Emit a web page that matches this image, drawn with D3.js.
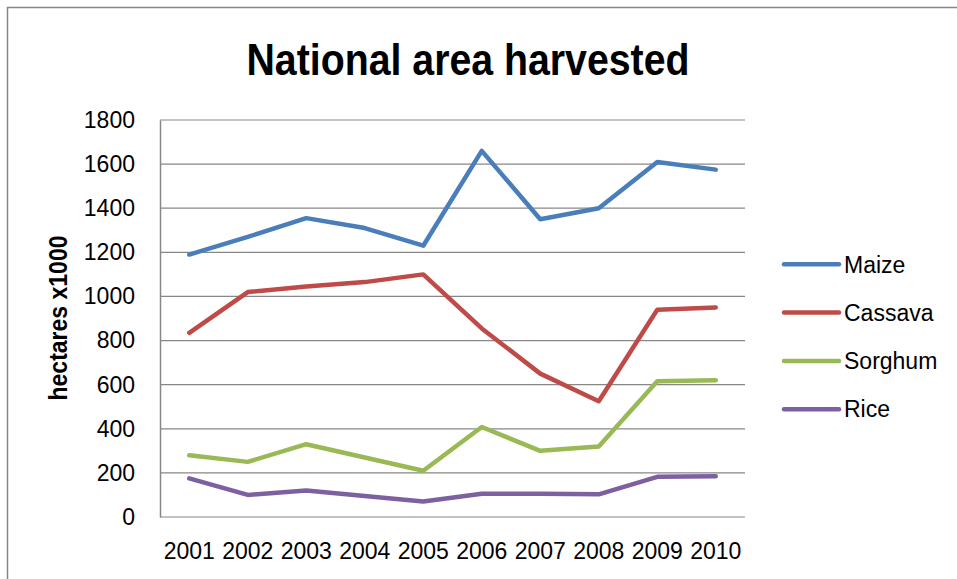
<!DOCTYPE html>
<html>
<head>
<meta charset="utf-8">
<script src="https://cdn.jsdelivr.net/npm/d3@7"></script>
<style>
  body { margin: 0; background: #fff; }
  text { font-family: "Liberation Sans", Arial, sans-serif; fill: #000; }
</style>
</head>
<body>
<svg width="957" height="579"></svg>
<script>
// data
const years = ["2001", "2002", "2003", "2004", "2005", "2006", "2007", "2008", "2009", "2010"];
const maize   = [1190, 1270, 1355, 1310, 1230, 1660, 1350, 1400, 1610, 1575];
const cassava = [835, 1020, 1045, 1065, 1100, 855, 650, 525, 940, 950];
const sorghum = [280, 250, 330, 270, 210, 408, 300, 320, 615, 620];
const rice    = [175, 100, 120, 95, 70, 105, 105, 103, 182, 185];
const yTicks  = [0, 200, 400, 600, 800, 1000, 1200, 1400, 1600, 1800];

const seriesNames  = ["Maize", "Cassava", "Sorghum", "Rice"];
const seriesColors = ["#4a7ebb", "#be4b48", "#98b954", "#7d60a0"];
const seriesValues = [maize, cassava, sorghum, rice];

const svg = d3.select("svg");

// outer chart border (runs off the right and bottom edge)
svg.append("rect")
    .attr("x", 7.5).attr("y", 7.5)
    .attr("width", 1000).attr("height", 1000)
    .attr("fill", "none")
    .attr("stroke", "#868686")
    .attr("stroke-width", 1.5);

const plotL = 160, plotR = 745, plotT = 120, plotB = 517;

const x = d3.scaleBand().domain(years).range([plotL, plotR]);
const y = d3.scaleLinear().domain([0, 1800]).range([plotB, plotT]);

// gridlines
svg.append("g")
    .selectAll("line")
    .data(yTicks)
    .enter().append("line")
    .attr("x1", plotL).attr("x2", plotR)
    .attr("y1", function(d) { return y(d); })
    .attr("y2", function(d) { return y(d); })
    .attr("stroke", "#878787")
    .attr("stroke-width", 1.2);

// y axis
const yAxis = svg.append("g")
    .attr("transform", "translate(" + plotL + ",0)")
    .call(d3.axisLeft(y).tickValues(yTicks).tickFormat(d3.format("d")).tickSize(0).tickPadding(25));
yAxis.select(".domain").attr("stroke", "#878787").attr("stroke-width", 1.5);
yAxis.selectAll("text")
    .style("font-size", "23px")
    .style("font-family", "Liberation Sans, Arial, sans-serif")
    .attr("fill", "#000");

// x axis
const xAxis = svg.append("g")
    .attr("transform", "translate(0," + plotB + ")")
    .call(d3.axisBottom(x).tickSize(0).tickPadding(26));
xAxis.select(".domain").remove();
xAxis.selectAll("text")
    .style("font-size", "23px")
    .style("font-family", "Liberation Sans, Arial, sans-serif")
    .attr("fill", "#000");

// lines
const line = d3.line()
    .x(function(d, i) { return x(years[i]) + x.bandwidth() / 2; })
    .y(function(d) { return y(d); });

svg.append("g")
    .selectAll("path")
    .data(seriesValues)
    .enter().append("path")
    .attr("d", line)
    .attr("fill", "none")
    .attr("stroke", function(d, i) { return seriesColors[i]; })
    .attr("stroke-width", 4.5)
    .attr("stroke-linejoin", "round")
    .attr("stroke-linecap", "round");

// title
svg.append("text")
    .attr("x", 468).attr("y", 75)
    .attr("text-anchor", "middle")
    .attr("font-weight", "bold")
    .attr("font-size", "44px")
    .attr("textLength", 443)
    .attr("lengthAdjust", "spacingAndGlyphs")
    .text("National area harvested");

// y axis title
svg.append("text")
    .attr("transform", "translate(67,318) rotate(-90)")
    .attr("text-anchor", "middle")
    .attr("font-weight", "bold")
    .attr("font-size", "25px")
    .attr("textLength", 165)
    .attr("lengthAdjust", "spacingAndGlyphs")
    .text("hectares x1000");

// legend
const legend = svg.append("g")
    .selectAll("g")
    .data(seriesNames)
    .enter().append("g")
    .attr("transform", function(d, i) { return "translate(784," + (264.3 + i * 48.3) + ")"; });

legend.append("line")
    .attr("x1", 0).attr("x2", 55)
    .attr("stroke", function(d, i) { return seriesColors[i]; })
    .attr("stroke-width", 4.5)
    .attr("stroke-linecap", "round");

legend.append("text")
    .attr("x", 60).attr("dy", "0.36em")
    .attr("font-size", "23px")
    .text(function(d) { return d; });
</script>
</body>
</html>
